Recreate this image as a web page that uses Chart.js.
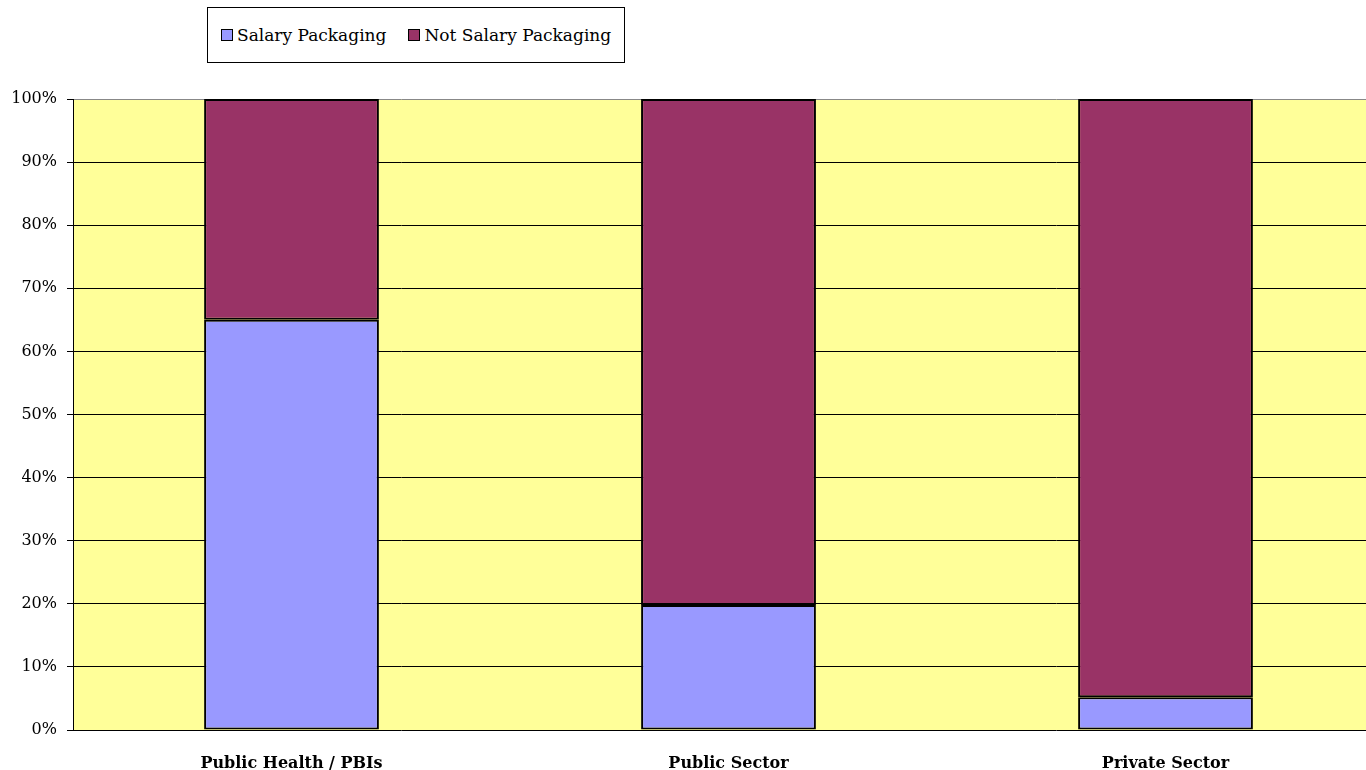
<!DOCTYPE html>
<html>
<head>
<meta charset="utf-8">
<script src="https://cdn.jsdelivr.net/npm/chart.js@4.4.1/dist/chart.umd.min.js"></script>
<style>
  html, body { margin: 0; padding: 0; background: #fff; overflow: hidden; }
  #wrap { position: absolute; left: 0; top: 0; width: 1384px; height: 770px; }
  #legend {
    position: absolute; left: 207px; top: 7px; width: 416px; height: 54px;
    border: 1px solid #000; background: #fff;
    font-family: "DejaVu Serif", serif; font-size: 17px; color: #000;
    display: flex; align-items: center; box-sizing: content-box;
  }
  .item { display: flex; align-items: center; margin-left: 13px; }
  .item + .item { margin-left: 22px; }
  .sw { width: 10px; height: 10px; border: 1.5px solid #000; margin-right: 4px; }
</style>
</head>
<body>
<div id="wrap"><canvas id="chart"></canvas></div>
<div id="legend"></div>
<script>
// Данные
const CATEGORIES = ['Public Health / PBIs', 'Public Sector', 'Private Sector'];
const SALARY     = [65, 19.8, 5.2];
const NOT_SALARY = [35, 80.2, 94.8];
const SERIES_NAMES  = ['Salary Packaging', 'Not Salary Packaging'];
const SERIES_COLORS = ['#9999FF', '#993366'];

const FONT = '"DejaVu Serif", serif';

// Легенда (рамка сверху)
document.getElementById('legend').innerHTML = SERIES_NAMES.map((n, i) =>
  `<div class="item"><div class="sw" style="background:${SERIES_COLORS[i]}"></div>${n}</div>`
).join('');

// Жёлтый фон области построения
const plotBg = {
  id: 'plotBg',
  beforeDraw(chart) {
    const { ctx, chartArea: a } = chart;
    ctx.save();
    ctx.fillStyle = '#FFFF99';
    ctx.fillRect(a.left, a.top, a.right - a.left, a.bottom - a.top);
    ctx.restore();
  }
};

new Chart(document.getElementById('chart'), {
  type: 'bar',
  data: {
    labels: CATEGORIES,
    datasets: [
      { label: SERIES_NAMES[0], data: SALARY, backgroundColor: SERIES_COLORS[0],
        borderColor: '#000', borderWidth: 2, borderSkipped: false,
        barPercentage: 0.4, categoryPercentage: 1 },
      { label: SERIES_NAMES[1], data: NOT_SALARY, backgroundColor: SERIES_COLORS[1],
        borderColor: '#000', borderWidth: 2, borderSkipped: false,
        barPercentage: 0.4, categoryPercentage: 1 },
    ],
  },
  options: {
    responsive: true,
    maintainAspectRatio: false,
    animation: false,
    layout: { padding: { top: 99, right: 0, bottom: 0, left: 0 } },
    plugins: { legend: { display: false }, tooltip: { enabled: false } },
    scales: {
      x: {
        stacked: true,
        grid: { display: false },
        border: { display: false },
        ticks: { color: '#000', padding: 16, font: { family: FONT, size: 16, weight: 'bold' } },
        afterFit: s => { s.height = 40; },
      },
      y: {
        stacked: true,
        min: 0, max: 100,
        ticks: {
          stepSize: 10, color: '#000', padding: 10,
          font: { family: FONT, size: 16 },
          callback: v => v + '%',
        },
        grid: {
          color: c => c.tick && c.tick.value === 100 ? '#888' : '#000',
          tickColor: '#000', tickLength: 6, lineWidth: 1,
        },
        border: { color: '#000', width: 1 },
        afterFit: s => { s.width = 73; },
      },
    },
  },
  plugins: [plotBg],
});
</script>
</body>
</html>
